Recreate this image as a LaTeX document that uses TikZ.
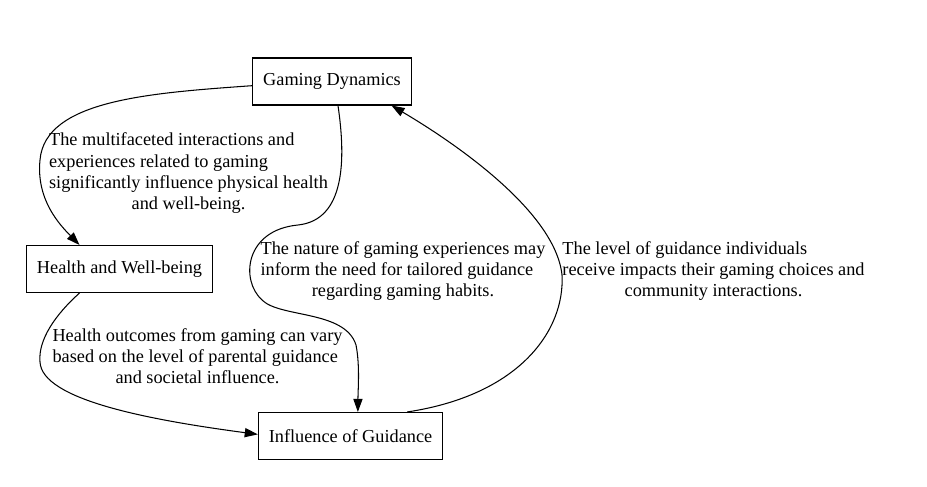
\documentclass[tikz,border=0pt]{standalone}
\usepackage{fontspec}
\setmainfont{Liberation Serif}
\usetikzlibrary{shapes,arrows.meta}
\tikzstyle{block} = [rectangle, draw, line width=0.8pt, minimum height=36pt, inner xsep=8pt, text centered]
\tikzstyle{line} = [draw, line width=0.8pt, -{Triangle[length=10pt,width=7pt]}]
\tikzstyle{note} = [inner sep=0pt]

\begin{document}
\begin{tikzpicture}[x=0.7657pt, y=-0.7657pt, font=\fontsize{14}{16.2}\selectfont]
    \useasboundingbox (0,0) rectangle (927,487);
    \node [block] (gaming) at (332,81.5) {Gaming Dynamics};
    \node [block] (health) at (119.5,269) {Health and Well-being};
    \node [block] (guidance) at (350.5,436) {Influence of Guidance};

    \node [note] (note_gh) at (188.5,173.5) {\begin{tabular}{@{}l@{}}The multifaceted interactions and\\experiences related to gaming\\significantly influence physical health\\\multicolumn{1}{@{}c@{}}{and well-being.}\end{tabular}};
    \node [note] (note_gg) at (403,271.5) {\begin{tabular}{@{}l@{}}The nature of gaming experiences may\\inform the need for tailored guidance\\\multicolumn{1}{@{}c@{}}{regarding gaming habits.}\end{tabular}};
    \node [note] (note_ig) at (713.5,271.5) {\begin{tabular}{@{}l@{}}The level of guidance individuals\\receive impacts their gaming choices and\\\multicolumn{1}{@{}c@{}}{community interactions.}\end{tabular}};
    \node [note] (note_hg) at (197.5,358.5) {\begin{tabular}{@{}l@{}}Health outcomes from gaming can vary\\based on the level of parental guidance\\\multicolumn{1}{@{}c@{}}{and societal influence.}\end{tabular}};

    \path [line] (gaming.183) .. controls (150,93) and (45,100) .. (40,160) .. controls (36,200) and (60,225) .. (health.149);
    \path [line] (gaming.-76) .. controls (346,160) and (345,220) .. (298,225) .. controls (245,230) and (240,280) .. (262,300) .. controls (280,318) and (345,310) .. (356,345) .. controls (360,365) and (358,390) .. (guidance.73);
    \path [line] (guidance.23) .. controls (520,395) and (565,330) .. (562,275) .. controls (555,210) and (450,140) .. (gaming.-22);
    \path [line] (health.211) .. controls (55,315) and (38,340) .. (40,362) .. controls (42,400) and (150,420) .. (guidance.179);
  \end{tikzpicture}
\end{document}
